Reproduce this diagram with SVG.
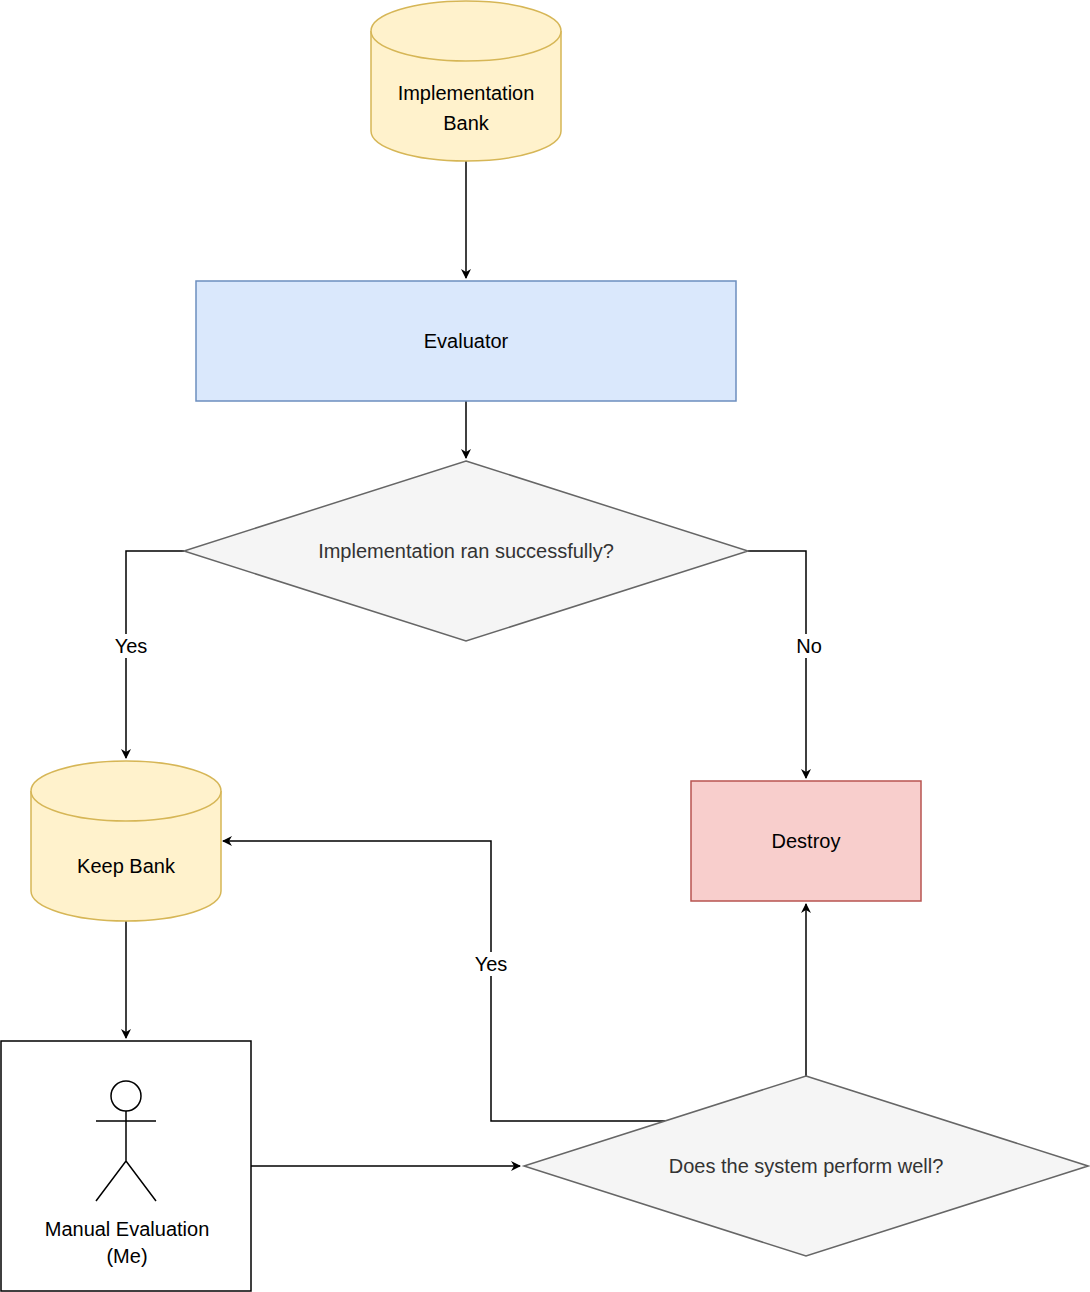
<svg xmlns="http://www.w3.org/2000/svg" width="1090" height="1292" viewBox="0 0 1090 1292">
<style>
text{font-family:"Liberation Sans",Arial,sans-serif;font-size:20px;text-anchor:middle}
.db{fill:#fff2cc;stroke:#d6b656;stroke-width:1.5}
.e{fill:none;stroke:#000;stroke-width:1.5}
.d{fill:#f5f5f5;stroke:#666;stroke-width:1.5}
.lbl{fill:#fff}
</style>
<defs><marker id="a" markerWidth="10" markerHeight="10" refX="9" refY="5" orient="auto" markerUnits="userSpaceOnUse"><path d="M0,0 L10,5 L0,10 L3,5 Z" fill="#000"/></marker></defs>
<rect width="1090" height="1292" fill="#fff"/>
<g id="connectors">
<path class="e" d="M466,161 V278" marker-end="url(#a)"/>
<path class="e" d="M466,401 V458" marker-end="url(#a)"/>
<path class="e" d="M184,551 H126 V758" marker-end="url(#a)"/>
<rect class="lbl" x="110" y="634" width="40" height="24"/><text x="131" y="653">Yes</text>
<path class="e" d="M748,551 H806 V778" marker-end="url(#a)"/>
<rect class="lbl" x="792" y="634" width="32" height="24"/><text x="809" y="653">No</text>
<path class="e" d="M126,921 V1038" marker-end="url(#a)"/>
<path class="e" d="M251,1166 H520" marker-end="url(#a)"/>
<path class="e" d="M806,1076 V904" marker-end="url(#a)"/>
<path class="e" d="M665,1121 H491 V841 H223" marker-end="url(#a)"/>
<rect class="lbl" x="470" y="952" width="42" height="24"/><text x="491" y="971">Yes</text>
</g>
<g id="impl"><path class="db" d="M371,31 A95,30 0 0 1 561,31 V131 A95,30 0 0 1 371,131 Z"/><path class="db" d="M371,31 A95,30 0 0 0 561,31" fill="none"/><text x="466" y="100">Implementation</text><text x="466" y="130">Bank</text></g>
<g id="evaluator"><rect x="196" y="281" width="540" height="120" fill="#dae8fc" stroke="#6c8ebf" stroke-width="1.5"/><text x="466" y="348">Evaluator</text></g>
<g id="dec1"><path class="d" d="M466,461 L748,551 L466,641 L184,551 Z"/><text x="466" y="558" fill="#333">Implementation ran successfully?</text></g>
<g id="keep"><path class="db" d="M31,791 A95,30 0 0 1 221,791 V891 A95,30 0 0 1 31,891 Z"/><path class="db" d="M31,791 A95,30 0 0 0 221,791" fill="none"/><text x="126" y="873">Keep Bank</text></g>
<g id="destroy"><rect x="691" y="781" width="230" height="120" fill="#f8cecc" stroke="#b85450" stroke-width="1.5"/><text x="806" y="848">Destroy</text></g>
<g id="manual"><rect x="1" y="1041" width="250" height="250" fill="#fff" stroke="#000" stroke-width="1.5"/>
<circle cx="126" cy="1096" r="15" fill="#fff" stroke="#000" stroke-width="1.5"/><path class="e" d="M126,1111 V1161 M96,1121 H156 M96,1201 L126,1161 L156,1201"/>
<text x="127" y="1236">Manual Evaluation</text><text x="127" y="1263">(Me)</text></g>
<g id="dec2"><path class="d" d="M806,1076 L1088,1166 L806,1256 L524,1166 Z"/><text x="806" y="1173" fill="#333">Does the system perform well?</text></g>
</svg>
